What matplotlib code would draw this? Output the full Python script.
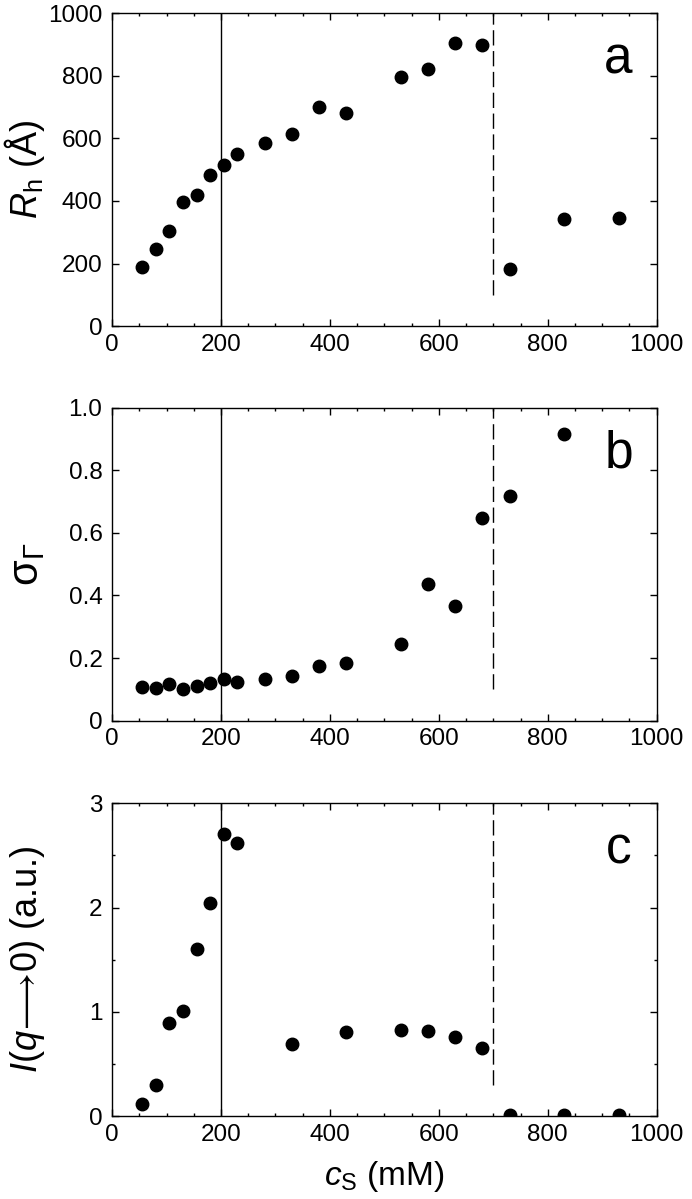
import numpy as np
import matplotlib
matplotlib.use('Agg')
import matplotlib.pyplot as plt
from matplotlib.ticker import MultipleLocator

plt.rcParams['font.family'] = ['Liberation Sans', 'DejaVu Sans']
plt.rcParams['mathtext.fontset'] = 'custom'
plt.rcParams['mathtext.rm'] = 'Liberation Sans'
plt.rcParams['mathtext.it'] = 'Liberation Sans:italic'
plt.rcParams['mathtext.bf'] = 'Liberation Sans:bold'
plt.rcParams['mathtext.fallback'] = 'stixsans'

# concentracao de sal (mM)
cs = [55, 80, 105, 130, 155, 180, 205, 230, 280, 330, 380, 430,
      530, 580, 630, 680, 730, 830, 930]

# raio hidrodinamico (A)
rh = [189, 248, 304, 397, 418, 482, 516, 549, 586, 614, 699, 681,
      795, 823, 906, 899, 181, 341, 345]

# polidispersidade (sem ponto em 930)
cs_b = [55, 80, 105, 130, 155, 180, 205, 230, 280, 330, 380, 430,
        530, 580, 630, 680, 730, 830]
sigma = [0.107, 0.105, 0.117, 0.101, 0.110, 0.120, 0.133, 0.124, 0.133,
         0.144, 0.174, 0.183, 0.246, 0.437, 0.366, 0.647, 0.718, 0.915]

# intensidade I(q->0)
cs_c = [55, 80, 105, 130, 155, 180, 205, 230, 330, 430, 530, 580,
        630, 680, 730, 830, 930]
i0 = [0.115, 0.303, 0.894, 1.005, 1.606, 2.049, 2.707, 2.624, 0.696,
      0.808, 0.827, 0.817, 0.763, 0.651, 0.01, 0.01, 0.01]

fig = plt.figure(figsize=(6.92, 11.99), dpi=100)

# posicoes dos paineis (fracao da figura)
L, W, H = 0.162, 0.787, 0.261
paineis = [
    (0.728, cs, rh, (0, 1000), 200, None, r'$R_\mathrm{h}$ (Å)', 26, 'a'),
    (0.399, cs_b, sigma, (0, 1.0), 0.2, None, r'σ$_\mathrm{\Gamma}$', 30, 'b'),
    (0.069, cs_c, i0, (0, 3), 1, 0.5,
     r'$I$($q$$\!\longrightarrow\!$0) (a.u.)', 26, 'c'),
]

for (b, x, y, ylim, ymaj, ymin, ylab, yfs, letra) in paineis:
    ax = fig.add_axes([L, b, W, H])
    ax.plot(x, y, 'o', color='k', ms=9, mec='k')
    ax.axvline(200, color='k', lw=1)
    ax.axvline(700, ymin=0.1, color='k', lw=1, dashes=(11, 4))
    ax.set_xlim(0, 1000)
    ax.set_ylim(*ylim)
    ax.xaxis.set_major_locator(MultipleLocator(200))
    ax.xaxis.set_minor_locator(MultipleLocator(50))
    ax.yaxis.set_major_locator(MultipleLocator(ymaj))
    if ymin:
        ax.yaxis.set_minor_locator(MultipleLocator(ymin))
    if letra == 'b':
        ax.set_yticks([0, 0.2, 0.4, 0.6, 0.8, 1.0])
        ax.set_yticklabels(['0', '0.2', '0.4', '0.6', '0.8', '1.0'])
    ax.tick_params(which='both', direction='in', top=True, right=True,
                   labelsize=17.5, width=1)
    ax.tick_params(which='major', length=5)
    ax.tick_params(which='minor', length=2.5)
    ax.tick_params(axis='y', pad=7)
    ax.tick_params(axis='x', pad=5.5)
    for s in ax.spines.values():
        s.set_linewidth(1)
    ax.set_ylabel(ylab, fontsize=yfs)
    ax.yaxis.set_label_coords(-0.119, 0.5)
    ax.text(0.93, 0.808, letra, transform=ax.transAxes, fontsize=37,
            ha='center', va='baseline')
    if letra == 'c':
        ax.set_xlabel(r'$c_\mathrm{S}$ (mM)', fontsize=24)
        ax.xaxis.set_label_coords(0.5, -0.135)

fig.savefig('out.png', dpi=100)
